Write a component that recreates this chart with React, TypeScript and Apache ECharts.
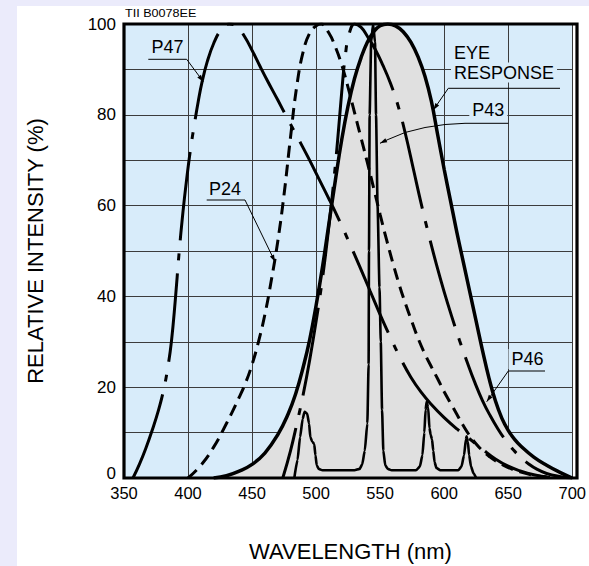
import React, { useEffect, useRef } from "react";
import * as echarts from "echarts";

// ---- data (wavelength nm, relative intensity %) ----
const xTicks = [350, 400, 450, 500, 550, 600, 650, 700];
const yTickLabels = [0, 20, 40, 60, 80, 100];

const eyeResponse: [number, number][] = [
  [420, 0], [430, 0.5], [440, 1.5], [450, 3], [460, 5.5], [470, 9.5], [478, 14], [484, 18.5],
  [490, 24.5], [495, 30.5], [500, 38], [505, 46.5], [510, 56], [515, 65.5], [520, 74.5],
  [525, 82], [530, 88], [535, 92.5], [540, 96], [545, 98.3], [550, 99.6], [556, 100],
  [562, 99.6], [568, 98.3], [574, 96], [580, 92.5], [585, 88.5], [590, 83], [595, 75.5],
  [600, 68], [605, 61], [610, 54], [615, 47.5], [620, 41], [625, 34.5], [630, 28], [635, 22],
  [640, 17], [645, 13.2], [650, 10.5], [655, 8.5], [660, 7], [670, 4.6], [680, 2.8], [690, 1.3],
  [700, 0],
];

const p24: [number, number][] = [
  [400, 0], [410, 2.8], [420, 6.8], [430, 12], [440, 17.8], [445, 21], [450, 25], [455, 30],
  [460, 36], [465, 43.5], [470, 52], [475, 62.5], [480, 75], [485, 86.5], [490, 94], [495, 98],
  [500, 99.6], [504, 100], [510, 98], [515, 95], [520, 91], [525, 86], [530, 80.5], [535, 75],
  [540, 69.5], [545, 63.8], [550, 58], [555, 52.5], [560, 47.3], [565, 42.5], [570, 38.2],
  [575, 34.3], [580, 30.5], [585, 27.3], [590, 24.5], [595, 21.8], [600, 19], [605, 16.5],
  [610, 14], [615, 11.5], [620, 9.3], [625, 7.5], [630, 6], [635, 4.8], [640, 3.8], [650, 2.3],
  [660, 1.3], [670, 0.6], [680, 0.2], [685, 0],
];

const p47: [number, number][] = [
  [357, 0], [362, 3], [367, 6.5], [372, 10.5], [377, 15], [381, 19.5], [384, 24], [387, 30],
  [390, 39], [393, 49.5], [396, 58.5], [399, 66], [402, 72.5], [405, 78], [408, 83], [411, 87.3],
  [415, 91.7], [420, 95.7], [426, 98.8], [432, 100], [438, 99.5], [444, 97.3], [450, 94.2],
  [456, 90.8], [462, 87.5], [470, 83.3], [478, 79], [486, 74.8], [494, 70.5], [502, 66],
  [510, 61.5], [518, 56.8], [526, 51.8], [534, 46.6], [542, 41.3], [550, 36], [558, 31],
  [566, 26.3], [574, 22.2], [582, 18.9], [590, 16.2], [600, 13.3], [610, 10.8], [620, 8.6],
  [630, 6.3], [640, 4.2], [650, 2.6], [660, 1.5], [670, 0.7], [680, 0.2],
];

const p46: [number, number][] = [
  [474, 0], [480, 6], [485, 12], [490, 18.5], [495, 26], [500, 34.5], [505, 44], [510, 55.5],
  [514, 66], [517, 75], [520, 85], [523, 93.5], [526, 98], [530, 100], [535, 99.3], [540, 97.3],
  [546, 94.5], [552, 91], [558, 87], [564, 82], [570, 75.5], [576, 68], [582, 60.5], [588, 53.5],
  [594, 47], [600, 41], [606, 35.5], [612, 30.3], [618, 25.5], [624, 21], [630, 17], [636, 13.7],
  [642, 10.8], [648, 8.3], [654, 6.2], [660, 4.5], [666, 3.1], [672, 2], [680, 1], [690, 0.35],
  [700, 0],
];

const p43: [number, number][] = [
  [483, 0], [485.5, 4], [487.5, 9], [489.5, 13], [491, 14.6], [493, 14.2], [494.5, 12],
  [495.5, 9], [497, 8], [498.5, 7.5], [499.5, 5], [500.5, 2.8], [502, 2], [505, 1.7], [530, 1.7],
  [534, 2], [536, 3], [538, 6], [540, 12], [541, 25], [541.3, 50], [541.8, 80], [543, 96],
  [544.5, 100], [546, 96], [546.8, 80], [548, 60], [549.5, 42], [550.5, 30], [551.5, 15],
  [552.5, 6], [554, 2.8], [556, 2], [559, 1.7], [578, 1.7], [581, 2.5], [583, 5], [584.5, 10],
  [585.5, 15], [586.3, 16.8], [587.5, 15.5], [588.5, 11], [589.5, 9.5], [590.5, 8.5],
  [591.5, 6], [592.5, 3.5], [594, 2.2], [597, 1.7], [611, 1.7], [613.5, 2.5], [615.5, 5],
  [617, 8.5], [617.5, 9.2], [618.5, 8], [619.5, 5], [621, 2.5], [623, 1], [625, 0],
];

const FONT = '"Liberation Sans", Arial, Helvetica, sans-serif';
const PLOT_BG = "#d8ecfa";
const GRID = { left: 124, top: 24, width: 453, height: 454 };

function arrowHead(fx: number, fy: number, tx: number, ty: number) {
  const dx = tx - fx;
  const dy = ty - fy;
  const len = Math.sqrt(dx * dx + dy * dy) || 1;
  const ux = dx / len;
  const uy = dy / len;
  const bx = tx - ux * 7;
  const by = ty - uy * 7;
  const px = -uy * 2.3;
  const py = ux * 2.3;
  return {
    type: "polygon",
    z: 101,
    shape: { points: [[tx, ty], [bx + px, by + py], [bx - px, by - py]] },
    style: { fill: "#000" },
  };
}

function leader(points: number[][]) {
  const n = points.length;
  return [
    {
      type: "polyline",
      z: 101,
      shape: { points },
      style: { stroke: "#000", lineWidth: 1, fill: "none" },
    },
    arrowHead(points[n - 2][0], points[n - 2][1], points[n - 1][0], points[n - 1][1]),
  ];
}

function label(text: string, x: number, y: number, align = "center") {
  return {
    type: "text",
    z: 100,
    x,
    y,
    style: {
      text,
      font: `18px ${FONT}`,
      fill: "#000",
      align,
      verticalAlign: "middle",
      textAlign: align,
      textVerticalAlign: "middle",
      backgroundColor: PLOT_BG,
      padding: [1, 3],
    },
  };
}

export default function App() {
  const ref = useRef<HTMLDivElement>(null);

  useEffect(() => {
    if (!ref.current) return;
    const chart = echarts.init(ref.current, null, { renderer: "svg" });
    const lineBase = {
      type: "line",
      showSymbol: false,
      symbol: "none",
      smooth: 0.45,
      silent: true,
    };
    const chain = [89, 13, 7, 13];
    chart.setOption({
      animation: false,
      backgroundColor: "#ffffff",
      grid: { ...GRID, show: true, backgroundColor: PLOT_BG, borderWidth: 0 },
      xAxis: {
        type: "value",
        min: 350,
        max: 700,
        interval: 50,
        axisLine: { show: false },
        axisTick: { show: false },
        splitLine: { show: true, lineStyle: { color: "#3c3c3c", width: 1 } },
        axisLabel: {
          color: "#000",
          fontSize: 16.5,
          fontFamily: FONT,
          margin: 6,
          showMinLabel: true,
          showMaxLabel: true,
          formatter: (v: number) => (xTicks.includes(v) ? String(v) : ""),
        },
      },
      yAxis: {
        type: "value",
        min: 0,
        max: 100,
        interval: 10,
        axisLine: { show: false },
        axisTick: { show: false },
        splitLine: { show: true, lineStyle: { color: "#3c3c3c", width: 1 } },
        axisLabel: {
          color: "#000",
          fontSize: 17,
          fontFamily: FONT,
          margin: 8,
          formatter: (v: number) =>
            v === 0 ? "{z|0}" : yTickLabels.includes(v) ? String(v) : "",
          rich: {
            z: {
              color: "#000",
              fontSize: 17,
              fontFamily: FONT,
              lineHeight: 17,
              padding: [0, 0, 10, 0],
            },
          },
        },
      },
      series: [
        {
          ...lineBase,
          name: "EYE RESPONSE",
          data: eyeResponse,
          z: 2,
          lineStyle: { color: "#000", width: 3.5 },
          areaStyle: { color: "#e0e0e0", opacity: 1 },
        },
        {
          ...lineBase,
          name: "P24",
          data: p24,
          z: 3,
          lineStyle: { color: "#000", width: 3, type: [12, 7] },
        },
        {
          ...lineBase,
          name: "P47",
          data: p47,
          z: 3,
          lineStyle: { color: "#000", width: 3, type: chain },
        },
        {
          ...lineBase,
          name: "P46",
          data: p46,
          z: 3,
          lineStyle: { color: "#000", width: 3, type: chain, dashOffset: 37 },
        },
        {
          ...lineBase,
          name: "P43",
          data: p43,
          smooth: 0.2,
          smoothMonotone: "x",
          z: 4,
          lineStyle: { color: "#000", width: 2.6 },
        },
      ],
      graphic: [
        { type: "rect", z: -1, shape: { x: 0, y: 0, width: 589, height: 6 }, style: { fill: "#ebebfb" } },
        { type: "rect", z: -1, shape: { x: 0, y: 0, width: 17, height: 566 }, style: { fill: "#ebebfb" } },
        {
          type: "rect",
          z: 102,
          shape: { x: GRID.left, y: GRID.top, width: GRID.width, height: GRID.height },
          style: { fill: "none", stroke: "#000", lineWidth: 3.2 },
        },
        {
          type: "text",
          z: 100,
          x: 125,
          y: 13.5,
          scaleX: 1.2,
          style: {
            text: "TII B0078EE",
            font: `10.5px ${FONT}`,
            fill: "#000",
            align: "left",
            verticalAlign: "middle",
            textAlign: "left",
            textVerticalAlign: "middle",
          },
        },
        {
          type: "text",
          z: 100,
          x: 35,
          y: 251,
          rotation: Math.PI / 2,
          style: {
            text: "RELATIVE INTENSITY (%)",
            font: `22px ${FONT}`,
            fill: "#000",
            align: "center",
            verticalAlign: "middle",
            textAlign: "center",
            textVerticalAlign: "middle",
          },
        },
        {
          type: "text",
          z: 100,
          x: 350.5,
          y: 551,
          style: {
            text: "WAVELENGTH (nm)",
            font: `22px ${FONT}`,
            fill: "#000",
            align: "center",
            verticalAlign: "middle",
            textAlign: "center",
            textVerticalAlign: "middle",
          },
        },
        // P47
        label("P47", 167.5, 47),
        ...leader([[148.3, 59.3], [186.7, 59.3], [203.3, 81.7]]),
        // P24
        label("P24", 225, 189),
        ...leader([[206.7, 200], [245, 200], [275, 261.7]]),
        // EYE RESPONSE
        label("EYE", 451, 52.5, "left"),
        label("RESPONSE", 451, 72.5, "left"),
        ...leader([[560, 88.3], [448.3, 88.3], [433.3, 110]]),
        // P43
        label("P43", 488.3, 109.5),
        ...leader([[508.3, 123.3], [465, 123.3], [445, 124.5], [425, 127.5], [405, 132.5], [388, 139.5], [380, 143.3]]),
        // P46
        label("P46", 527.5, 359),
        ...leader([[545, 371], [508.3, 371], [486.7, 401.7]]),
      ],
    });
    return () => chart.dispose();
  }, []);

  return (
    <div
      ref={ref}
      style={{ position: "absolute", left: 0, top: 0, width: 589, height: 566 }}
    />
  );
}
